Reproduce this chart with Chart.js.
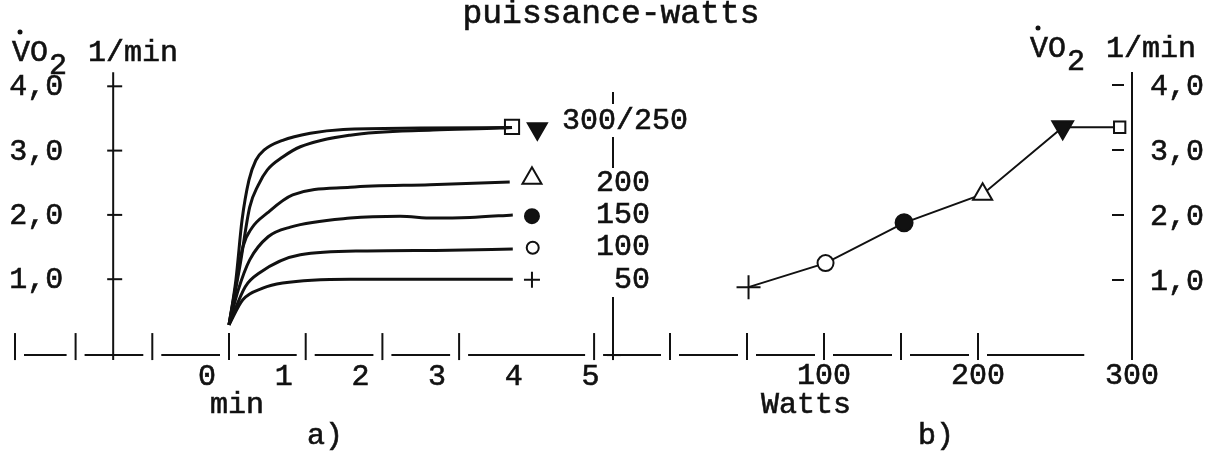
<!DOCTYPE html>
<html>
<head>
<meta charset="utf-8">
<script src="https://cdn.jsdelivr.net/npm/chart.js@4.4.0/dist/chart.umd.min.js"></script>
<style>
  body { margin: 0; background: #fff; }
  #chart { display: block; }
</style>
</head>
<body>
<canvas id="chart" width="1214" height="456"></canvas>
<script>
// a) VO2 (l/min) against time (min) for each load
const time300 = [0, 0.09, 0.17, 0.26, 0.35, 0.46, 0.70, 1.06, 1.49, 2.49, 3.69];
const vo2300  = [0.29, 0.99, 1.92, 2.54, 2.85, 3.01, 3.16, 3.27, 3.33, 3.35, 3.36];
const time250 = [0, 0.14, 0.27, 0.38, 0.50, 0.70, 0.93, 1.58, 2.66, 3.53, 3.69];
const vo2250  = [0.29, 1.19, 2.12, 2.46, 2.70, 2.90, 3.06, 3.24, 3.32, 3.35, 3.36];
const time200 = [0, 0.09, 0.18, 0.30, 0.50, 0.83, 1.58, 2.62, 3.66];
const vo2200  = [0.29, 0.91, 1.50, 1.80, 2.03, 2.31, 2.43, 2.47, 2.51];
const time150 = [0, 0.12, 0.27, 0.51, 0.80, 1.58, 2.23, 2.66, 3.14, 3.70];
const vo2150  = [0.29, 0.83, 1.30, 1.66, 1.81, 1.95, 1.98, 1.95, 1.96, 2.00];
const time100 = [0, 0.21, 0.40, 0.93, 1.80, 2.88, 3.70];
const vo2100  = [0.29, 0.88, 1.10, 1.38, 1.44, 1.45, 1.47];
const time50  = [0, 0.18, 0.44, 0.70, 1.58, 3.70];
const vo250   = [0.29, 0.68, 0.86, 0.94, 1.00, 1.00];

// steady-state symbols at the end of each curve (order 300, 250, 200, 150, 100, 50)
const loadNames   = ['300', '250', '200', '150', '100', '50'];
const steadyTime  = [3.69, 4.02, 3.95, 3.95, 3.96, 3.95];
const steadyVO2   = [3.37, 3.34, 2.57, 1.98, 1.49, 0.99];

// b) VO2 against power (order 50 -> 300 W)
const powerWatts  = [51, 101, 152, 203, 255, 292];
const powerVO2    = [0.89, 1.26, 1.88, 2.32, 3.35, 3.35];

// tick labels
const timeTicks     = [0, 1, 2, 3, 4, 5];
const wattTicks     = [100, 200, 300];
const vo2Ticks      = [1, 2, 3, 4];
const vo2TickLabels = ['1,0', '2,0', '3,0', '4,0'];
const legendLabels  = ['300/250', '200', '150', '100', '50'];

// bars of the broken bottom axis
const timeAxisBars = [-2.79, -2, -1, 0, 1, 2, 3, 4.76];
const wattAxisBars = [0, 50, 100, 150, 200];

const INK = '#111';
const FONT = '30px "Liberation Mono", "DejaVu Sans Mono", monospace';
const TITLE_FONT = '33px "Liberation Mono", "DejaVu Sans Mono", monospace';

// symbol for each load
const symbols = {
  '300': { style: 'rect', fill: '#fff', rot: 0 },
  '250': { style: 'triangle', fill: INK, rot: 180 },
  '200': { style: 'triangle', fill: '#fff', rot: 0 },
  '150': { style: 'circle', fill: INK, rot: 0 },
  '100': { style: 'circle', fill: '#fff', rot: 0 },
  '50':  { style: 'cross', fill: INK, rot: 0 }
};
const symSizeA = { '300': 10, '250': 11, '200': 11, '150': 7, '100': 6, '50': 8 };
const symSizeB = { '300': 8, '250': 12, '200': 11, '150': 8.5, '100': 8, '50': 12 };

function xy(xs, ys) {
  return xs.map((x, i) => ({ x: x, y: ys[i] }));
}

function curve(xs, ys) {
  return {
    data: xy(xs, ys),
    xAxisID: 't', yAxisID: 'v',
    borderColor: INK, borderWidth: 3,
    pointRadius: 0,
    cubicInterpolationMode: 'monotone',
    fill: false
  };
}

const loadsB = ['50', '100', '150', '200', '250', '300'];

const datasets = [
  curve(time300, vo2300),
  curve(time250, vo2250),
  curve(time200, vo2200),
  curve(time150, vo2150),
  curve(time100, vo2100),
  curve(time50, vo250),
  {
    // steady-state symbols, panel a
    data: xy(steadyTime, steadyVO2),
    xAxisID: 't', yAxisID: 'v',
    showLine: false,
    pointStyle: loadNames.map(n => symbols[n].style),
    pointRotation: loadNames.map(n => symbols[n].rot),
    pointBackgroundColor: loadNames.map(n => symbols[n].fill),
    pointBorderColor: INK,
    pointBorderWidth: 2,
    pointRadius: loadNames.map(n => symSizeA[n])
  },
  {
    // panel b
    data: xy(powerWatts, powerVO2),
    xAxisID: 'w', yAxisID: 'v2',
    borderColor: INK, borderWidth: 2,
    tension: 0,
    pointStyle: loadsB.map(n => symbols[n].style),
    pointRotation: loadsB.map(n => symbols[n].rot),
    pointBackgroundColor: loadsB.map(n => symbols[n].fill),
    pointBorderColor: INK,
    pointBorderWidth: 2,
    pointRadius: loadsB.map(n => symSizeB[n])
  }
];

// drawing of the typewritten axes and texts
function line(c, x1, y1, x2, y2) {
  c.beginPath(); c.moveTo(x1, y1); c.lineTo(x2, y2); c.stroke();
}

// typewriter ink is a bit heavier than the screen font
function text(c, s, x, y, align) {
  c.textAlign = align || 'center';
  c.fillText(s, x, y);
  c.strokeText(s, x, y);
}

function vo2Header(c, x, y) {
  text(c, 'VO', x, y, 'left');
  c.beginPath(); c.arc(x + 8, y - 29, 2.5, 0, Math.PI * 2); c.fill();
  text(c, '2', x + 37, y + 13, 'left');
  text(c, '1/min', x + 76, y, 'left');
}

const figurePlugin = {
  id: 'figure',
  beforeDatasetsDraw(chart) {
    const c = chart.ctx;
    const { t, w, v, v2 } = chart.scales;
    c.save();
    c.strokeStyle = INK;
    c.fillStyle = INK;
    c.lineWidth = 2;

    const yBase = v.getPixelForValue(-0.18);

    // broken bottom axis
    const bars = timeAxisBars.map(b => t.getPixelForValue(b))
      .concat(wattAxisBars.map(b => w.getPixelForValue(b)));
    bars.forEach(x => line(c, x, yBase - 22, x, yBase + 5));
    for (let i = 0; i < bars.length - 1; i++) {
      line(c, bars[i] + 9, yBase, bars[i + 1] - 9, yBase);
    }
    line(c, bars[bars.length - 1] + 9, yBase, w.getPixelForValue(269), yBase);

    // left VO2 axis
    const xl = t.getPixelForValue(-1.51);
    line(c, xl, v.getPixelForValue(4.22), xl, yBase + 5);
    vo2Ticks.forEach(val => {
      const y = v.getPixelForValue(val);
      line(c, xl - 6, y, xl + 9, y);
    });

    // middle axis with the load labels
    const xm = w.getPixelForValue(-37);
    line(c, xm, 92, xm, 104);
    line(c, xm, 137, xm, 168);
    line(c, xm, 297, xm, yBase + 5);
    line(c, xm - 6, yBase, xm + 8, yBase);

    // right VO2 axis
    const xr = w.getPixelForValue(300);
    line(c, xr, v2.getPixelForValue(4.2), xr, yBase + 5);
    vo2Ticks.forEach(val => {
      const y = v2.getPixelForValue(val);
      line(c, xr - 20, y, xr - 8, y);
    });
    c.restore();
  },
  afterDraw(chart) {
    const c = chart.ctx;
    const { t, w, v, v2 } = chart.scales;
    c.save();
    c.fillStyle = INK;
    c.strokeStyle = INK;
    c.lineWidth = 0.6;
    c.textBaseline = 'middle';

    c.font = TITLE_FONT;
    text(c, 'puissance-watts', 611, 14);
    c.font = FONT;

    // headers
    c.textBaseline = 'alphabetic';
    vo2Header(c, 12, 61);
    vo2Header(c, 1030, 57);
    c.textBaseline = 'middle';

    // left / right VO2 tick labels
    const xl = t.getPixelForValue(-1.51);
    const xr = w.getPixelForValue(300);
    vo2Ticks.forEach((val, i) => {
      text(c, vo2TickLabels[i], xl - 50, v.getPixelForValue(val) + 1, 'right');
      text(c, vo2TickLabels[i], xr + 18, v2.getPixelForValue(val) + 2, 'left');
    });

    // time tick labels (typed a little left of the bars)
    timeTicks.forEach(val => text(c, String(val), t.getPixelForValue(val) - 22, 377));
    wattTicks.forEach(val => text(c, String(val), w.getPixelForValue(val), 376));

    text(c, 'min', 237, 405);
    text(c, 'a)', 325, 436);
    text(c, 'Watts', 806, 405);
    text(c, 'b)', 936, 436);

    // load labels next to the steady-state symbols
    const xm = w.getPixelForValue(-13);
    text(c, legendLabels[0], 562, 121, 'left');
    [2.50, 2.00, 1.50, 0.99].forEach((lv, i) => {
      text(c, legendLabels[i + 1], xm, v.getPixelForValue(lv), 'right');
    });
    c.restore();
  }
};

// pixel mapping of the figure: 76.7 px per min, 1.54 px per W, ~64 px per l/min
new Chart(document.getElementById('chart'), {
  type: 'line',
  data: { datasets: datasets },
  options: {
    responsive: false,
    animation: false,
    layout: { padding: 0, autoPadding: false },
    plugins: { legend: { display: false }, tooltip: { enabled: false } },
    scales: {
      t:  { type: 'linear', axis: 'x', display: false, min: -229 / 76.7, max: (1214 - 229) / 76.7 },
      w:  { type: 'linear', axis: 'x', display: false, min: -670 / 1.54, max: (1214 - 670) / 1.54 },
      v:  { type: 'linear', axis: 'y', display: false, min: (343.5 - 456) / 64.3, max: 343.5 / 64.3 },
      v2: { type: 'linear', axis: 'y', display: false, min: (345 - 456) / 65, max: 345 / 65 }
    }
  },
  plugins: [figurePlugin]
});
</script>
</body>
</html>
